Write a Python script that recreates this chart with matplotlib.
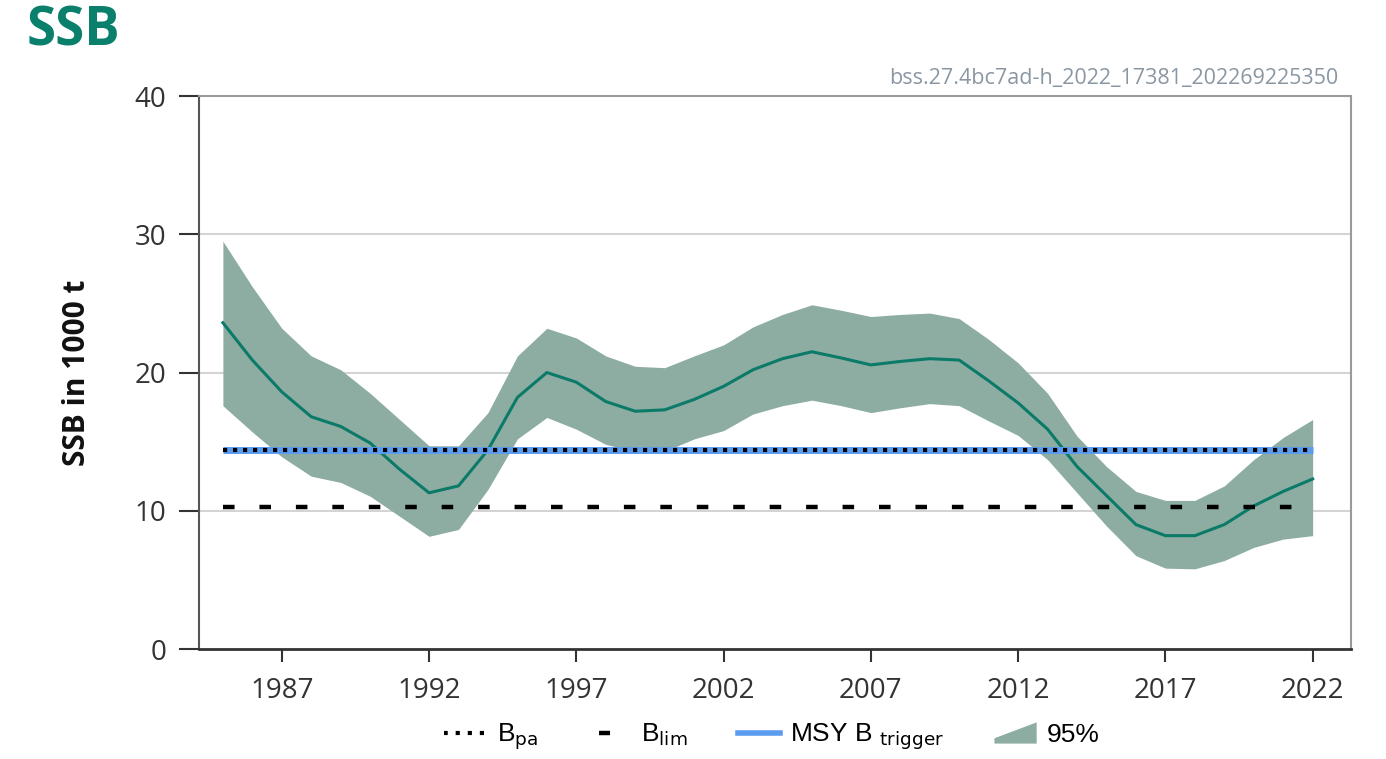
import numpy as np
import matplotlib
matplotlib.use("Agg")
import matplotlib.pyplot as plt
from matplotlib.lines import Line2D
from matplotlib.patches import Patch, Polygon
from matplotlib.legend_handler import HandlerPatch

# SSB estimates (1000 t)
years = list(range(1985, 2023))
ssb = [23.6, 20.9, 18.6, 16.8, 16.1, 14.9, 13.0, 11.3, 11.8, 14.4,
       18.2, 20.0, 19.3, 17.9, 17.2, 17.3, 18.05, 19.0, 20.2, 21.0,
       21.5, 21.05, 20.55, 20.8, 21.0, 20.9, 19.4, 17.8, 15.9, 13.2,
       11.1, 9.0, 8.2, 8.2, 9.0, 10.35, 11.4, 12.3]
ssb_high = [29.5, 26.2, 23.2, 21.2, 20.2, 18.5, 16.6, 14.7, 14.7, 17.1,
            21.2, 23.2, 22.5, 21.2, 20.45, 20.35, 21.2, 22.0, 23.3, 24.2,
            24.9, 24.5, 24.05, 24.2, 24.3, 23.9, 22.4, 20.7, 18.5, 15.4,
            13.2, 11.4, 10.75, 10.75, 11.8, 13.7, 15.3, 16.6]
ssb_low = [17.6, 15.7, 13.9, 12.5, 12.05, 11.05, 9.6, 8.15, 8.65, 11.55,
           15.2, 16.75, 15.9, 14.8, 14.3, 14.3, 15.2, 15.8, 17.0, 17.6,
           18.0, 17.6, 17.1, 17.45, 17.75, 17.6, 16.5, 15.45, 13.7, 11.3,
           8.9, 6.75, 5.85, 5.8, 6.4, 7.35, 7.95, 8.2]

b_pa = 14.4
b_lim = 10.3
msy_btrigger = 14.4

x_ticks = [1987, 1992, 1997, 2002, 2007, 2012, 2017, 2022]
y_ticks = [0, 10, 20, 30, 40]
stamp = "bss.27.4bc7ad-h_2022_17381_202269225350"

teal = "#0b7a69"
band = "#8dada2"
blue = "#5b9bf0"

tick_font = ["Open Sans", "DejaVu Sans"]
leg_font = ["Liberation Sans Narrow", "Liberation Sans", "DejaVu Sans"]


class HandlerWedge(HandlerPatch):
    # rising wedge used for the confidence band entry
    def create_artists(self, legend, orig_handle, xdescent, ydescent,
                       width, height, fontsize, trans):
        x0, y0 = -xdescent, -ydescent - 0.1 * height
        h = height * 1.15
        pts = [(x0, y0), (x0 + width, y0), (x0 + width, y0 + h),
               (x0, y0 + 0.25 * h)]
        p = Polygon(pts, closed=True, facecolor=band, edgecolor="none",
                    transform=trans)
        return [p]


fig = plt.figure(figsize=(13.86, 7.59), dpi=100)
ax = fig.add_axes([0.1436, 0.1449, 0.9747 - 0.1436, 0.8735 - 0.1449])

for y in [10, 20, 30]:
    ax.axhline(y, color="#d4d4d4", lw=1.5, zorder=0)

ax.fill_between(years, ssb_low, ssb_high, color=band, lw=0, zorder=1)
ax.plot(years, ssb, color=teal, lw=2.2, zorder=3)

ax.plot(years, [msy_btrigger] * len(years), color=blue, lw=5, zorder=4,
        solid_capstyle="butt")
ax.plot(years, [b_pa] * len(years), color="black", lw=3,
        dashes=(1.0, 1.4), zorder=5, dash_capstyle="butt")
ax.plot(years, [b_lim] * len(years), color="black", lw=3.2,
        dashes=(2.6, 5.6), zorder=5, dash_capstyle="butt")

ax.set_xlim(1984.19, 2023.30)
ax.set_ylim(0, 40)
ax.set_xticks(x_ticks)
ax.set_yticks(y_ticks)
ax.tick_params(axis="y", direction="out", length=14.5, width=1.5,
               colors="#333333", pad=9, labelsize=20)
ax.tick_params(axis="x", direction="out", length=9, width=1.5,
               colors="#333333", pad=11, labelsize=20)
for lab in ax.get_xticklabels() + ax.get_yticklabels():
    lab.set_family(tick_font)
    lab.set_color("#333333")

ax.spines["left"].set_color("#555555")
ax.spines["left"].set_linewidth(1.5)
ax.spines["bottom"].set_color("#333333")
ax.spines["bottom"].set_linewidth(2)
ax.spines["top"].set_color("#9a9a9a")
ax.spines["top"].set_linewidth(1.5)
ax.spines["right"].set_color("#9a9a9a")
ax.spines["right"].set_linewidth(1.5)

ax.set_ylabel("SSB in 1000 t", family=tick_font, fontweight="bold",
              fontsize=21.5, color="#111111", va="center")
ax.yaxis.set_label_coords(-0.106, 0.5)

fig.text(0.0195, 0.9407, "SSB", family=tick_font, fontweight="bold",
         fontsize=38, color="#0a7f6c", ha="left", va="baseline")
fig.text(0.9655, 0.889, stamp, family=tick_font, fontsize=15.5,
         color="#8a97a3", ha="right", va="baseline")

handles = [
    Line2D([], [], color="black", lw=3, linestyle=(3, (1.0, 1.9))),
    Line2D([], [], color="black", lw=3.2, linestyle=(30, (2.48, 30))),
    Line2D([], [], color=blue, lw=4),
    Patch(color=band),
]
labels = [r"B$_{\mathrm{pa}}$", r"B$_{\mathrm{lim}}$",
          r"MSY B $_{\mathrm{trigger}}$", "95%"]
fig.legend(handles, labels, loc="center", bbox_to_anchor=(0.557, 0.029),
           ncol=4, frameon=False, handlelength=1.6, handletextpad=0.4,
           columnspacing=1.9, prop={"family": leg_font, "size": 19},
           handler_map={Patch: HandlerWedge()})

fig.savefig("out.png", dpi=100)
